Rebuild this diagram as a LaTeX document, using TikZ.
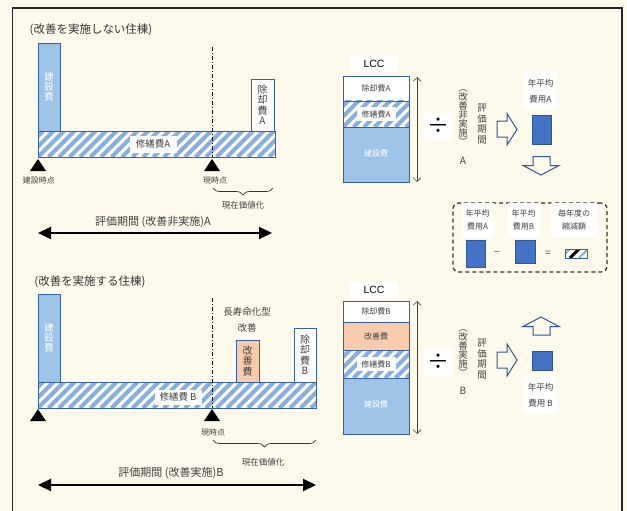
\documentclass[tikz,border=0pt]{standalone}
\usepackage{fontspec}
\setmainfont{Noto Sans CJK JP}
\newfontfamily\latinf{Liberation Sans}
\usetikzlibrary{arrows.meta,decorations.pathreplacing,calc}
\definecolor{bgc}{HTML}{FEFAEB}
\definecolor{barblue}{HTML}{9DC3E6}
\definecolor{bord}{HTML}{3560A8}
\definecolor{peach}{HTML}{F8CBAD}
\definecolor{sqblue}{HTML}{4472C4}
\definecolor{sqbord}{HTML}{2F5597}
\definecolor{txt}{HTML}{404040}
\definecolor{hatchc}{HTML}{86AEDF}
\newcommand\fsz[2]{\fontsize{#1}{#2}\selectfont}
\begin{document}
\begin{tikzpicture}[x=1pt,y=-1pt,
  every node/.style={inner sep=0pt, outer sep=0pt, text=txt},
  blk/.style={draw=bord, line width=0.9pt, anchor=north west, inner sep=0pt, align=center},
  hatched/.style={fill=white, path picture={
    \foreach \k in {-4,...,32} {
      \draw[hatchc, line width=4pt] ([xshift=\k*10.5pt]path picture bounding box.south west) -- ++(40pt,40pt);
    }}},
  minihatch/.style={fill=white, path picture={
    \draw[hatchc, line width=2pt] ([xshift=-4pt]path picture bounding box.south west) -- ++(12pt,12pt);
    \draw[hatchc, line width=2pt] ([xshift=14pt]path picture bounding box.south west) -- ++(12pt,12pt);
    \draw[black, line width=3pt] ([xshift=5pt]path picture bounding box.south west) -- ++(12pt,12pt);
    }},
  wlab/.style={fill=white, align=center},
  ttl/.style={font=\fsz{11.5}{13}, text=black!80},
  sml/.style={font=\fsz{8}{10}},
  tri/.style={fill=black},
  dashdotl/.style={black, line width=0.9pt, dash pattern=on 4pt off 2pt on 1pt off 2pt},
  bracel/.style={decorate, decoration={brace, mirror, amplitude=7pt}, black!80, line width=0.7pt},
  bigarr/.style={{Triangle[length=13pt,width=12pt]}-{Triangle[length=13pt,width=12pt]}, line width=2.2pt, black},
  thinarr/.style={{Straight Barb[length=4pt,width=8pt]}-{Straight Barb[length=4pt,width=8pt]}, line width=0.6pt, black!75},
  hollow/.style={draw=sqbord, line width=1pt, fill=bgc},
  sq/.style={fill=sqblue, draw=sqbord, line width=0.8pt, anchor=north west},
  vtxt/.style={align=center, font=\fsz{9.5}{10.5}}
  ]
\fill[bgc] (0,0) rectangle (627,511);
\useasboundingbox (0,0) rectangle (627,511);
\draw[black!85, line width=1.4pt] (12.5,511) -- (12.5,8) -- (622,8) -- (622,511);

% ===== upper section =====
\node[ttl] (t1) at (91,30) {(改善を実施しない住棟)};
\node[blk, fill=barblue, minimum width=22, minimum height=88, text=white, font=\fsz{9.5}{10}] (c1) at (38,43) {建\\設\\費};
\node[blk, hatched, minimum width=237, minimum height=26] (r1) at (38,131) {};
\node[wlab, font=\fsz{9.5}{10}, minimum width=47, minimum height=17] (r1l) at (153,144) {修繕費A};
\node[blk, fill=white, minimum width=23, minimum height=52, font=\fsz{10}{10.5}] (d1) at (251,79) {除\\却\\費\\A};
\coordinate (v1t) at (212,47);
\coordinate (v1b) at (212,157);
\draw[dashdotl] (v1t) -- (v1b);
\fill[tri] (38,159) -- (46,171) -- (30,171) -- cycle;
\fill[tri] (212,159) -- (220,171) -- (204,171) -- cycle;
\node[sml] (p1) at (39,180) {建設時点};
\node[sml] (n1) at (215,180) {現時点};
\coordinate (b1l) at (213,188);
\coordinate (b1r) at (273,188);
\draw[bracel] (b1l) -- (b1r);
\node[font=\fsz{8.5}{10}] (pv1) at (243,205) {現在価値化};
\node[font=\fsz{11}{12}] (e1) at (153,222) {評価期間 (改善非実施)A};
\coordinate (a1l) at (38,233);
\coordinate (a1r) at (272,233);
\draw[bigarr] (a1l) -- (a1r);

% LCC A
\node[wlab, minimum width=48, minimum height=16, font=\latinf\fsz{10.5}{12}, text=black] (lcc1) at (374,64) {LCC};
\node[blk, fill=white, minimum width=66, minimum height=25, sml] (s1d) at (343,76) {除却費A};
\node[blk, hatched, minimum width=66, minimum height=26] (s1r) at (343,101) {};
\node[wlab, sml, minimum width=39, minimum height=14] (s1rl) at (s1r) {修繕費A};
\node[blk, fill=barblue, minimum width=66, minimum height=55, text=white, sml] (s1c) at (343,127) {\raisebox{3pt}{建設費}};
\coordinate (da1t) at (417,77);
\coordinate (da1b) at (417,182);
\draw[thinarr] (da1t) -- (da1b);
\node[wlab, minimum width=28, minimum height=26, font=\fsz{22}{22}, text=black] (div1) at (438,126) {÷};
\node[vtxt, font=\fsz{9.5}{9}] (k1) at (463,118) {︵\\改\\善\\非\\実\\施\\︶};
\node[font=\fsz{10}{10}] (k1a) at (463,161) {A};
\node[vtxt] (h1) at (482,124) {評\\価\\期\\間};
\draw[hollow] (497,121) -- (507,121) -- (507,113.5) -- (517,129.5) -- (507,145) -- (507,137) -- (497,137) -- cycle;
\node[wlab, minimum width=33, minimum height=38, font=\fsz{8.5}{16}] (y1) at (540.5,91) {年平均\\費用A};
\node[sq, minimum width=19, minimum height=29] (q1) at (532,115) {};
\draw[hollow] (533,156.5) -- (550,156.5) -- (550,165.5) -- (559,165.5) -- (541,175) -- (523,165.5) -- (533,165.5) -- cycle;

% dashed summary box
\node[draw=black!80, dash pattern=on 4pt off 3pt, line width=1.3pt, rounded corners=6pt, minimum width=154, minimum height=69, anchor=north west] (sum) at (453,203) {};
\node[wlab, minimum width=32, minimum height=34, font=\fsz{8}{13}] (sa) at (477.5,220) {年平均\\費用A};
\node[wlab, minimum width=32, minimum height=34, font=\fsz{8}{13}] (sb) at (523.5,220) {年平均\\費用B};
\node[wlab, minimum width=46, minimum height=34, font=\fsz{8}{13}] (sc) at (574,220) {毎年度の\\縮減額};
\node[sq, minimum width=19, minimum height=27] (qa) at (466,240) {};
\node[font=\fsz{10}{10}, text=black!70] (minus) at (497,253) {−};
\node[sq, minimum width=20, minimum height=23] (qb) at (515,240) {};
\node[font=\fsz{10}{10}, text=black!70] (eq) at (548,254) {=};
\node[blk, minihatch, minimum width=22, minimum height=9] (qc) at (565,249) {};

% ===== lower section =====
\node[ttl] (t2) at (90,282) {(改善を実施する住棟)};
\node[blk, fill=barblue, minimum width=22, minimum height=88, text=white, font=\fsz{9.5}{10}] (c2) at (38,294) {建\\設\\費};
\node[blk, hatched, minimum width=278, minimum height=26] (r2) at (38,382) {};
\node[wlab, font=\fsz{9.5}{10}, minimum width=47, minimum height=15] (r2l) at (178,397) {修繕費 B};
\node[blk, fill=peach, minimum width=23, minimum height=42, font=\fsz{10}{10.5}] (i2) at (236,340) {改\\善\\費};
\node[blk, fill=white, minimum width=22, minimum height=54, font=\fsz{10}{10.5}] (d2) at (294,328) {除\\却\\費\\B};
\coordinate (v2t) at (212,298);
\coordinate (v2b) at (212,408);
\draw[dashdotl] (v2t) -- (v2b);
\node[font=\fsz{9.5}{10}] (lt2) at (247,312) {長寿命化型};
\node[font=\fsz{9.5}{10}] (lt2b) at (247,328) {改善};
\fill[tri] (38,409) -- (46,421) -- (30,421) -- cycle;
\fill[tri] (212,409) -- (220,421) -- (204,421) -- cycle;
\node[sml] (n2) at (213,432) {現時点};
\coordinate (b2l) at (213,440);
\coordinate (b2r) at (316,440);
\draw[bracel] (b2l) -- (b2r);
\node[font=\fsz{8.5}{10}] (pv2) at (263,462) {現在価値化};
\node[font=\fsz{11}{12}] (e2) at (171,473) {評価期間 (改善実施)B};
\coordinate (a2l) at (38,485);
\coordinate (a2r) at (316,485);
\draw[bigarr] (a2l) -- (a2r);

% LCC B
\node[wlab, minimum width=48, minimum height=16, font=\latinf\fsz{10.5}{12}, text=black] (lcc2) at (374,290) {LCC};
\node[blk, fill=white, minimum width=66, minimum height=21, sml] (s2d) at (343,301) {除却費B};
\node[blk, fill=peach, minimum width=66, minimum height=28, sml] (s2i) at (343,322) {改善費};
\node[blk, hatched, minimum width=66, minimum height=28] (s2r) at (343,350) {};
\node[wlab, sml, minimum width=39, minimum height=14] (s2rl) at (s2r) {修繕費B};
\node[blk, fill=barblue, minimum width=66, minimum height=56, text=white, sml] (s2c) at (343,378) {\raisebox{3pt}{建設費}};
\coordinate (da2t) at (417,301);
\coordinate (da2b) at (417,434);
\draw[thinarr] (da2t) -- (da2b);
\node[wlab, minimum width=28, minimum height=27, font=\fsz{22}{22}, text=black] (div2) at (438,362) {÷};
\node[vtxt, font=\fsz{9.5}{9}] (k2) at (463,353) {︵\\改\\善\\実\\施\\︶};
\node[font=\fsz{10}{10}] (k2b) at (463,391) {B};
\node[vtxt] (h2) at (482,359) {評\\価\\期\\間};
\draw[hollow] (497,352) -- (507,352) -- (507,344) -- (517,360) -- (507,376) -- (507,368) -- (497,368) -- cycle;
\node[sq, minimum width=20, minimum height=19] (q2) at (532,351) {};
\node[wlab, minimum width=33, minimum height=38, font=\fsz{8.5}{16}] (y2) at (540.5,395) {年平均\\費用 B};
\draw[hollow] (541,317) -- (559,326.5) -- (550,326.5) -- (550,335) -- (533,335) -- (533,326.5) -- (523,326.5) -- cycle;
\end{tikzpicture}
\end{document}
